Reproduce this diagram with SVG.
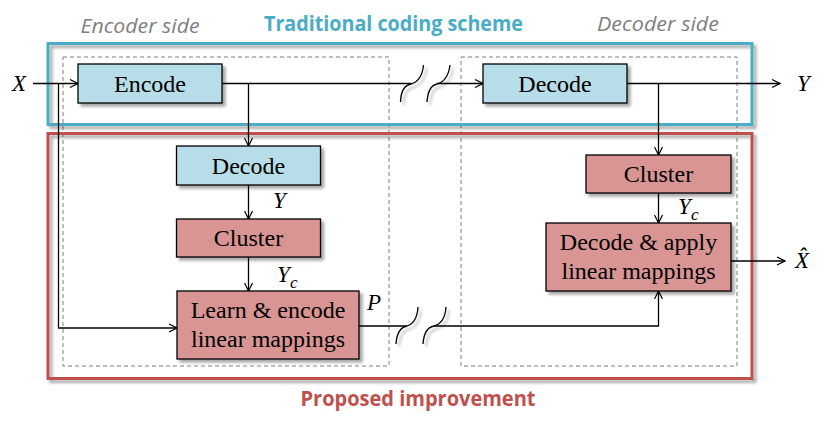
<svg xmlns="http://www.w3.org/2000/svg" width="833" height="425" viewBox="0 0 833 425">
<style>
.box{stroke:#000;stroke-width:1.3}
.blue{fill:#b7dde8}
.red{fill:#d99594}
.lbl{font-family:"Liberation Serif",serif;font-size:24px;fill:#000;text-anchor:middle}
.math{font-family:"Liberation Serif",serif;font-size:23px;font-style:italic;fill:#000}
.sub{font-family:"Liberation Serif",serif;font-size:17px;font-style:italic;fill:#000}
.side{font-family:"Open Sans","Liberation Sans",sans-serif;font-size:20px;font-style:italic;fill:#7f7f7f}
.title{font-family:"Open Sans","Liberation Sans",sans-serif;font-size:22px;font-weight:bold}
.dash{fill:none;stroke:#7f7f7f;stroke-width:1;stroke-dasharray:4,3}
.ln{fill:none;stroke:#000;stroke-width:1.3}
.brk{fill:none;stroke:#000;stroke-width:1.3}
</style>
<defs>
<marker id="arr" markerWidth="10" markerHeight="10" refX="9" refY="5" orient="auto" markerUnits="userSpaceOnUse">
<path d="M1,1 L9,5 L1,9" fill="none" stroke="#000" stroke-width="1.2"/>
</marker>
<filter id="sh" x="-10%" y="-10%" width="130%" height="140%">
<feGaussianBlur in="SourceAlpha" stdDeviation="1.5"/>
<feOffset dx="2.5" dy="2.5" result="b"/>
<feComponentTransfer><feFuncA type="linear" slope="0.35"/></feComponentTransfer>
<feMerge><feMergeNode/><feMergeNode in="SourceGraphic"/></feMerge>
</filter>
</defs>
<rect width="833" height="425" fill="#fff"/>

<g id="frames">
<rect x="63" y="57" width="326" height="309" class="dash"/>
<rect x="461" y="57" width="276" height="309" class="dash"/>
<rect x="48" y="43.5" width="704" height="81" fill="none" stroke="#4bacc6" stroke-width="3" filter="url(#sh)"/>
<rect x="48" y="133.5" width="704" height="245" fill="none" stroke="#c0504d" stroke-width="3" filter="url(#sh)"/>
<text x="140" y="33" class="side" text-anchor="middle" textLength="119" lengthAdjust="spacingAndGlyphs">Encoder side</text>
<text x="658" y="31" class="side" text-anchor="middle" textLength="122" lengthAdjust="spacingAndGlyphs">Decoder side</text>
<text x="393.5" y="31" class="title" fill="#4bacc6" text-anchor="middle" textLength="259" lengthAdjust="spacingAndGlyphs">Traditional coding scheme</text>
<text x="418" y="406" class="title" fill="#c0504d" text-anchor="middle" textLength="235" lengthAdjust="spacingAndGlyphs">Proposed improvement</text>
</g>

<g id="connectors">
<path d="M33,83.5 H78" class="ln" marker-end="url(#arr)"/>
<path d="M58.5,83.5 V328 H177" class="ln" marker-end="url(#arr)"/>
<path d="M222,83.5 H411" class="ln"/>
<path d="M437,83.5 H483" class="ln" marker-end="url(#arr)"/>
<path d="M248.5,83.5 V146" class="ln" marker-end="url(#arr)"/>
<path d="M248.5,185 V219" class="ln" marker-end="url(#arr)"/>
<path d="M248.5,257 V291" class="ln" marker-end="url(#arr)"/>
<path d="M359,326 H407" class="ln"/>
<path d="M434,326 H658.5 V291" class="ln" marker-end="url(#arr)"/>
<path d="M627,83.5 H780" class="ln" marker-end="url(#arr)"/>
<path d="M658.5,83.5 V155" class="ln" marker-end="url(#arr)"/>
<path d="M658.5,193 V223" class="ln" marker-end="url(#arr)"/>
<path d="M731,261 H785" class="ln" marker-end="url(#arr)"/>
<g filter="url(#sh)">
<path d="M400.5,102 Q401,86 411,84 Q422,81 423.5,65" class="brk"/>
<path d="M427,102 Q428,86 437,84 Q448,81 450,65" class="brk"/>
<path d="M396,344 Q397,328 407,326 Q417,323 418,307" class="brk"/>
<path d="M423,344 Q424,328 434,326 Q445,323 446,307" class="brk"/>
</g>
</g>

<g id="encode">
<rect x="78" y="64" width="144" height="39" class="box blue" filter="url(#sh)"/>
<text x="150" y="92" class="lbl">Encode</text>
</g>
<g id="decode-top">
<rect x="483" y="64" width="144" height="39" class="box blue" filter="url(#sh)"/>
<text x="555" y="92" class="lbl">Decode</text>
</g>
<g id="decode-enc">
<rect x="176.5" y="146" width="144" height="39" class="box blue" filter="url(#sh)"/>
<text x="248.5" y="174" class="lbl">Decode</text>
</g>
<g id="cluster-enc">
<rect x="176.5" y="219" width="144" height="38" class="box red" filter="url(#sh)"/>
<text x="248.5" y="246" class="lbl">Cluster</text>
</g>
<g id="learn">
<rect x="177" y="291" width="182" height="68" class="box red" filter="url(#sh)"/>
<text x="268" y="318" class="lbl">Learn &amp; encode</text>
<text x="268" y="347" class="lbl">linear mappings</text>
</g>
<g id="cluster-dec">
<rect x="586" y="155" width="145" height="38" class="box red" filter="url(#sh)"/>
<text x="658.5" y="182" class="lbl">Cluster</text>
</g>
<g id="decode-apply">
<rect x="546" y="223" width="185" height="68" class="box red" filter="url(#sh)"/>
<text x="638.5" y="250" class="lbl">Decode &amp; apply</text>
<text x="638.5" y="279" class="lbl">linear mappings</text>
</g>

<g id="labels">
<text x="12" y="91" class="math">X</text>
<text x="273" y="208" class="math">Y</text>
<text x="277" y="282" class="math">Y</text><text x="290" y="288" class="sub">c</text>
<text x="367" y="310" class="math">P</text>
<text x="678" y="214" class="math">Y</text><text x="691" y="220" class="sub">c</text>
<text x="797" y="91" class="math">Y</text>
<text x="795" y="268" class="math" font-size="21">X&#x302;</text>
</g>
</svg>
